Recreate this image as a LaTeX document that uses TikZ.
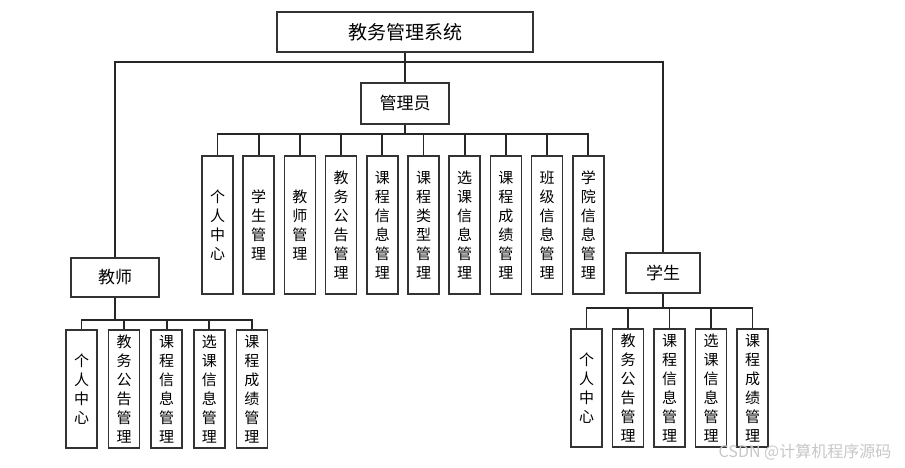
\documentclass[tikz,border=0pt]{standalone}
\usepackage{fontspec}
\setmainfont{Noto Sans CJK SC}
\newfontfamily\cjk{Noto Sans CJK SC}
\begin{document}
\begin{tikzpicture}[x=1pt,y=-1pt,
  box/.style={draw=black!80,line width=1.7pt,inner sep=0pt,align=center,fill=white},
  vbox/.style={box,minimum width=31pt,font=\cjk\fontsize{15}{19}\selectfont},
  link/.style={draw=black!85,line width=1.7pt}]
\useasboundingbox (0,0) rectangle (905,467);
% top
\node[box,minimum width=256pt,minimum height=40pt,font=\cjk\fontsize{19}{22}\selectfont] (sys) at (405,32) {教务管理系统};
\node[box,minimum width=88pt,minimum height=41pt,font=\cjk\fontsize{17}{20}\selectfont] (adm) at (405,103.5) {管理员};
\node[box,minimum width=88pt,minimum height=39pt,font=\cjk\fontsize{17}{20}\selectfont] (tea) at (115,277.5) {教师};
\node[box,minimum width=74pt,minimum height=40pt,font=\cjk\fontsize{17}{20}\selectfont] (stu) at (663,273) {学生};
\coordinate (bus) at (405,62);
\draw[link] (sys.south) -- (adm.north);
\draw[link] (tea.north) -- (tea.north |- bus) -- (stu.north |- bus) -- (stu.north);
% admin children
\coordinate (abus) at (405,134);
\foreach \t [count=\i from 0] in {个\\人\\中\\心,学\\生\\管\\理,教\\师\\管\\理,教\\务\\公\\告\\管\\理,课\\程\\信\\息\\管\\理,课\\程\\类\\型\\管\\理,选\\课\\信\\息\\管\\理,课\\程\\成\\绩\\管\\理,班\\级\\信\\息\\管\\理,学\\院\\信\\息\\管\\理}{
  \node[vbox,minimum height=138pt] (a\i) at ({217.5+41.2*\i},225) {\t};
}
\draw[link] (adm.south) -- (abus);
\draw[link] (a0.north) -- (a0.north |- abus) -- (a9.north |- abus) -- (a9.north);
\foreach \i in {1,...,8}{\draw[link] (a\i.north) -- (a\i.north |- abus);}
% teacher children
\coordinate (tbus) at (115,320);
\foreach \t [count=\i from 0] in {个\\人\\中\\心,教\\务\\公\\告\\管\\理,课\\程\\信\\息\\管\\理,选\\课\\信\\息\\管\\理,课\\程\\成\\绩\\管\\理}{
  \node[vbox,minimum height=118pt] (t\i) at ({81.5+42.6*\i},389) {\t};
}
\draw[link] (tea.south) -- (tbus);
\draw[link] (t0.north) -- (t0.north |- tbus) -- (t4.north |- tbus) -- (t4.north);
\foreach \i in {1,...,3}{\draw[link] (t\i.north) -- (t\i.north |- tbus);}
% student children
\coordinate (sbus) at (663,308);
\foreach \t [count=\i from 0] in {个\\人\\中\\心,教\\务\\公\\告\\管\\理,课\\程\\信\\息\\管\\理,选\\课\\信\\息\\管\\理,课\\程\\成\\绩\\管\\理}{
  \node[vbox,minimum height=118pt] (s\i) at ({586.5+41.5*\i},388) {\t};
}
\draw[link] (stu.south) -- (sbus);
\draw[link] (s0.north) -- (s0.north |- sbus) -- (s4.north |- sbus) -- (s4.north);
\foreach \i in {1,...,3}{\draw[link] (s\i.north) -- (s\i.north |- sbus);}
% watermark
\node[text=black!22,font=\cjk\fontsize{16}{18}\selectfont,inner sep=0pt] (wm) at (805,452) {CSDN @计算机程序源码};
\end{tikzpicture}
\end{document}
